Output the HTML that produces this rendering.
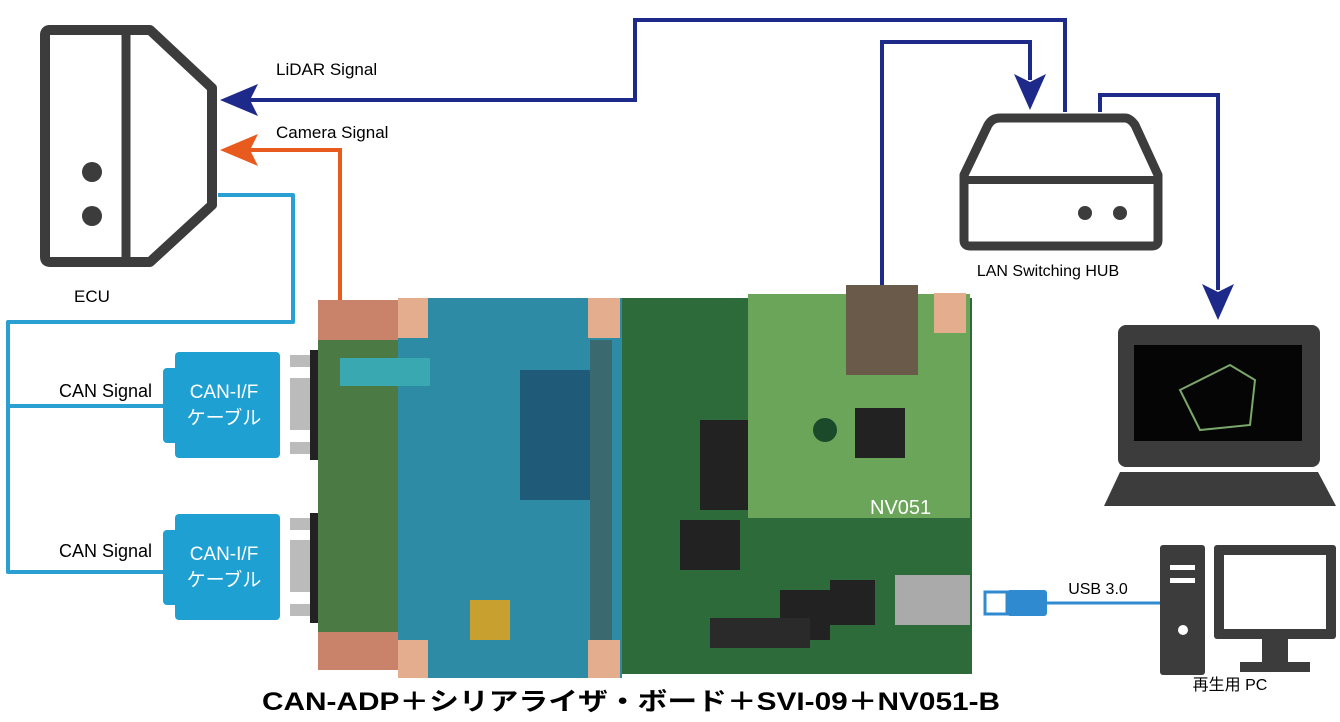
<!DOCTYPE html>
<html><head><meta charset="utf-8"><style>
body{margin:0;background:#fff;width:1340px;height:722px;overflow:hidden}
svg{display:block}
text{font-family:"Liberation Sans","Noto Sans CJK JP",sans-serif}
</style></head><body>
<svg width="1340" height="722" viewBox="0 0 1340 722">
<!-- ECU -->
<path d="M50,30 H150 L212,88 V205 L150,262 H50 Q45,262 45,257 V35 Q45,30 50,30Z" fill="none" stroke="#3c3c3c" stroke-width="10" stroke-linejoin="round"/>
<line x1="126" y1="30" x2="126" y2="262" stroke="#3c3c3c" stroke-width="9"/>
<circle cx="92" cy="172" r="10" fill="#3c3c3c"/><circle cx="92" cy="216" r="10" fill="#3c3c3c"/>
<text x="92" y="302" font-size="17" text-anchor="middle">ECU</text>
<!-- navy lines -->
<polyline points="250,100 635,100 635,20 1065,20 1065,112" fill="none" stroke="#1e2a8a" stroke-width="4"/>
<path d="M220,100 L258,84 L250,100 L258,116Z" fill="#1e2a8a"/>
<polyline points="882,290 882,42 1030,42 1030,80" fill="none" stroke="#1e2a8a" stroke-width="4"/>
<path d="M1030,110 L1014,74 L1030,82 L1046,74Z" fill="#1e2a8a"/>
<polyline points="1100,112 1100,95 1218,95 1218,290" fill="none" stroke="#1e2a8a" stroke-width="4"/>
<path d="M1218,320 L1202,284 L1218,292 L1234,284Z" fill="#1e2a8a"/>
<text x="276" y="75" font-size="17">LiDAR Signal</text>
<text x="276" y="138" font-size="17">Camera Signal</text>
<!-- orange -->
<polyline points="250,150 340,150 340,372" fill="none" stroke="#e85a1e" stroke-width="4"/>
<path d="M220,150 L258,134 L250,150 L258,166Z" fill="#e85a1e"/>
<!-- blue -->
<polyline points="218,195 293,195 293,322 8,322 8,572 180,572" fill="none" stroke="#2aa0d2" stroke-width="4" stroke-linejoin="round"/>
<line x1="8" y1="406" x2="180" y2="406" stroke="#2aa0d2" stroke-width="4"/>
<text x="152" y="397" font-size="18" text-anchor="end">CAN Signal</text>
<text x="152" y="557" font-size="18" text-anchor="end">CAN Signal</text>
<!-- CAN-IF cables -->
<g fill="#1fa0d3">
<rect x="163" y="368" width="115" height="75" rx="4"/><rect x="175" y="352" width="105" height="106" rx="4"/>
<rect x="186" y="355" width="90" height="8" rx="3"/><rect x="186" y="447" width="90" height="8" rx="3"/>
<rect x="163" y="530" width="115" height="75" rx="4"/><rect x="175" y="514" width="105" height="106" rx="4"/>
</g>
<g fill="#fff" font-size="19" text-anchor="middle"><text x="224" y="398">CAN-I/F</text><text x="224" y="424">ケーブル</text>
<text x="224" y="560">CAN-I/F</text><text x="224" y="586">ケーブル</text></g>
<!-- DB9 -->
<g fill="#bbb"><rect x="290" y="355" width="28" height="12"/><rect x="290" y="378" width="28" height="52"/><rect x="290" y="442" width="28" height="12"/>
<rect x="290" y="518" width="28" height="12"/><rect x="290" y="540" width="28" height="52"/><rect x="290" y="604" width="28" height="12"/></g>
<rect x="310" y="350" width="12" height="110" fill="#222"/><rect x="310" y="513" width="12" height="110" fill="#222"/>
<!-- boards -->
<rect x="318" y="300" width="82" height="370" fill="#4b7a45"/>
<rect x="318" y="300" width="82" height="40" fill="#c9836a"/><rect x="318" y="632" width="82" height="38" fill="#c9836a"/>
<rect x="398" y="298" width="224" height="380" fill="#2e8ba6"/>
<rect x="398" y="298" width="30" height="40" fill="#e4ad8e"/><rect x="588" y="298" width="32" height="40" fill="#e4ad8e"/>
<rect x="398" y="640" width="30" height="38" fill="#e4ad8e"/><rect x="588" y="640" width="32" height="38" fill="#e4ad8e"/>
<rect x="520" y="370" width="70" height="130" fill="#1f5a78"/>
<rect x="590" y="340" width="22" height="300" fill="#3a6a70"/>
<rect x="340" y="358" width="90" height="28" fill="#3aa8b0"/>
<rect x="470" y="600" width="40" height="40" fill="#c8a030"/>
<rect x="622" y="298" width="350" height="376" fill="#2e6b3a"/>
<rect x="700" y="420" width="50" height="90" fill="#222"/>
<rect x="680" y="520" width="60" height="50" fill="#222"/>
<rect x="780" y="590" width="50" height="50" fill="#222"/>
<rect x="710" y="618" width="100" height="30" fill="#2a2a2a"/>
<rect x="830" y="580" width="45" height="45" fill="#222"/>
<rect x="895" y="575" width="75" height="50" fill="#aaa"/>
<rect x="748" y="294" width="222" height="224" fill="#6aa55a"/>
<rect x="846" y="285" width="72" height="90" fill="#6a5a4a"/>
<rect x="855" y="408" width="50" height="50" fill="#222"/>
<circle cx="825" cy="430" r="12" fill="#1a4a2a"/>
<text x="870" y="514" font-size="20" fill="#fff">NV051</text>
<rect x="934" y="293" width="32" height="40" fill="#e4ad8e"/>
<text x="262" y="710" font-size="25" font-weight="bold" textLength="738" lengthAdjust="spacingAndGlyphs">CAN-ADP＋シリアライザ・ボード＋SVI-09＋NV051-B</text>
<!-- hub -->
<path d="M1000,118 H1125 Q1130,118 1135,125 L1158,175 V240 Q1158,246 1152,246 H970 Q964,246 964,240 V175 L988,125 Q992,118 1000,118Z" fill="none" stroke="#3c3c3c" stroke-width="9" stroke-linejoin="round"/>
<line x1="964" y1="180" x2="1158" y2="180" stroke="#3c3c3c" stroke-width="8"/>
<circle cx="1085" cy="213" r="7" fill="#3c3c3c"/><circle cx="1120" cy="213" r="7" fill="#3c3c3c"/>
<text x="1048" y="276" font-size="16" text-anchor="middle">LAN Switching HUB</text>
<!-- laptop -->
<rect x="1118" y="325" width="202" height="142" rx="8" fill="#3c3c3c"/>
<rect x="1134" y="345" width="168" height="96" fill="#050505"/>
<path d="M1180,390 L1230,365 L1255,380 L1250,425 L1200,430Z" fill="none" stroke="#7aa86a" stroke-width="2"/>
<path d="M1120,472 H1318 L1336,506 H1104Z" fill="#3c3c3c"/>
<!-- usb -->
<rect x="985" y="592" width="22" height="22" fill="none" stroke="#2f8ad0" stroke-width="3"/>
<rect x="1007" y="590" width="40" height="26" rx="3" fill="#2f8ad0"/>
<line x1="1047" y1="603" x2="1160" y2="603" stroke="#2f8ad0" stroke-width="3"/>
<text x="1098" y="594" font-size="16" text-anchor="middle">USB 3.0</text>
<!-- PC -->
<rect x="1160" y="545" width="45" height="130" rx="3" fill="#3c3c3c"/>
<rect x="1170" y="565" width="25" height="5" fill="#fff"/><rect x="1170" y="578" width="25" height="5" fill="#fff"/>
<circle cx="1183" cy="630" r="5" fill="#fff"/>
<rect x="1214" y="545" width="122" height="94" rx="3" fill="#3c3c3c"/>
<rect x="1224" y="555" width="102" height="74" fill="#fff"/>
<rect x="1262" y="639" width="26" height="25" fill="#3c3c3c"/><rect x="1240" y="662" width="70" height="10" fill="#3c3c3c"/>
<text x="1230" y="690" font-size="16" text-anchor="middle">再生用 PC</text>
</svg>
</body></html>
